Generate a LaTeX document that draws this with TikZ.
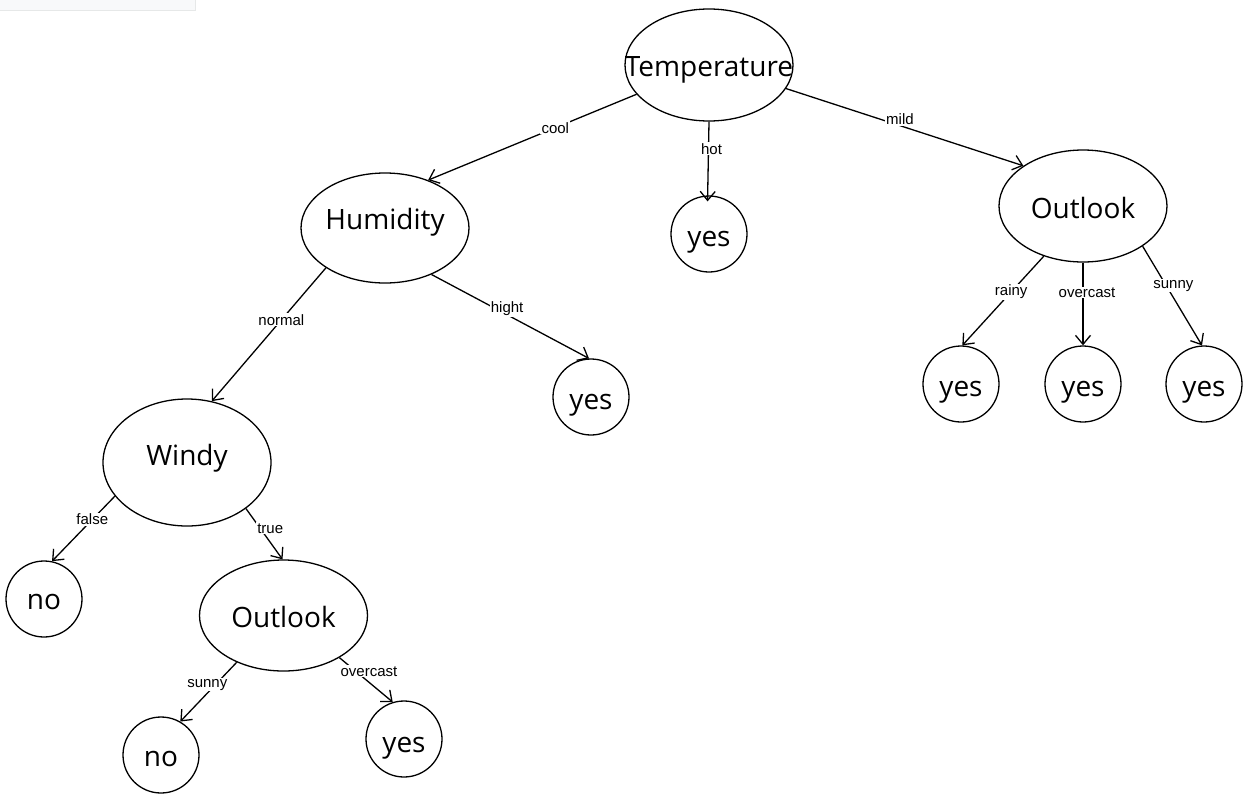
\documentclass[tikz,border=0pt]{standalone}
\usepackage{fontspec}
\setmainfont{Open Sans}
\newfontfamily\lblfont{Liberation Sans}
\usetikzlibrary{shapes.geometric,arrows.meta}
\definecolor{panelfill}{HTML}{F8F9FA}
\definecolor{panelline}{HTML}{E6E8E8}
% text with zero size, baseline lowered by #1 pt below the node centre
\newcommand{\nodetxt}[2]{\makebox[0pt]{\raisebox{-#1pt}[0pt][0pt]{#2}}}
\tikzset{
  every picture/.style={x=1pt,y=-1pt},
  tnode/.style={draw,line width=1.3pt,inner sep=0pt,font=\fontsize{28}{30}\selectfont},
  oval/.style={tnode,ellipse,minimum width=168pt,minimum height=112pt},
  leaf/.style={tnode,circle,minimum size=76pt},
  edge/.style={line width=1.3pt,-{Straight Barb[length=9pt,width=15pt,line width=1.3pt]}},
  lbl/.style={fill=white,inner sep=1pt,font=\lblfont\fontsize{15}{17}\selectfont}
}
\begin{document}
\begin{tikzpicture}
\useasboundingbox (0,0) rectangle (1251,796);
\fill[panelfill] (0,0) rectangle (195,10);
\draw[panelline,line width=1pt] (0,10) -- (195,10) -- (195,0);

\node[oval] (T) at (709,65) {\nodetxt{11}{Temperature}};
\node[oval,minimum height=110pt] (H) at (385,228) {\nodetxt{1}{Humidity}};
\node[leaf] (Yhot) at (709,234) {\nodetxt{12}{yes}};
\node[oval] (OR) at (1083,206) {\nodetxt{12}{Outlook}};
\node[leaf] (Yhi) at (591,397) {\nodetxt{12}{yes}};
\node[oval,minimum height=127pt] (W) at (187,462.5) {\nodetxt{3}{Windy}};
\node[leaf] (Nf) at (44,599) {\nodetxt{10}{no}};
\node[oval,minimum height=111pt] (OL) at (283.5,615.5) {\nodetxt{12}{Outlook}};
\node[leaf] (Ns) at (161,755) {\nodetxt{11}{no}};
\node[leaf] (Yo) at (404,739) {\nodetxt{13}{yes}};
\node[leaf] (Yr) at (961,384) {\nodetxt{12}{yes}};
\node[leaf] (Yov) at (1083,384) {\nodetxt{12}{yes}};
\node[leaf] (Ysu) at (1204,384) {\nodetxt{12}{yes}};

\draw[edge] (T.202) -- node[lbl,pos=0.39] {cool} (H.48);
\draw[edge,shorten >=-6pt] (T.270) -- node[lbl,pos=0.37,xshift=3pt] {hot} (Yhot.92);
\draw[edge] (T.343) -- node[lbl,pos=0.48,yshift=6pt] {mild} (OR.146);
\draw[edge] (H.214) -- node[lbl,pos=0.39] {normal} (W.68);
\draw[edge] (H.315) -- node[lbl,pos=0.48,yshift=6pt] {hight} (Yhi.93);
\draw[edge] (W.205) -- node[lbl,pos=0.36] {false} (Nf.78);
\draw[edge] (W.322) -- node[lbl,pos=0.39,xshift=10pt] {true} (OL.91);
\draw[edge] (OL.225) -- node[lbl,pos=0.38,xshift=-8pt] {sunny} (Ns.60);
\draw[edge] (OL.323) -- node[lbl,pos=0.31,xshift=13pt] {overcast} (Yo.107);
\draw[edge] (OR.232) -- node[lbl,pos=0.4] {rainy} (Yr.88);
\draw[edge] (OR.270) -- node[lbl,pos=0.36,xshift=4pt] {overcast} (Yov.90);
\draw[edge] (OR.326) -- node[lbl,pos=0.4,xshift=7pt] {sunny} (Ysu.93);
\end{tikzpicture}
\end{document}
